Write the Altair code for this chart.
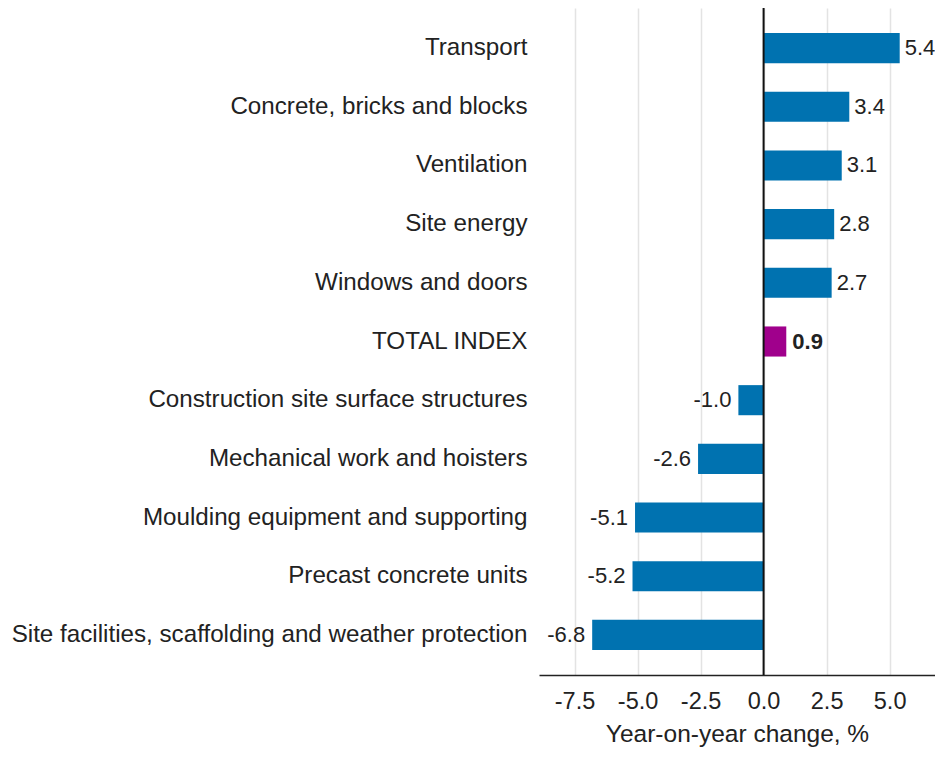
import altair as alt
import pandas as pd

categories = [
    "Transport",
    "Concrete, bricks and blocks",
    "Ventilation",
    "Site energy",
    "Windows and doors",
    "TOTAL INDEX",
    "Construction site surface structures",
    "Mechanical work and hoisters",
    "Moulding equipment and supporting",
    "Precast concrete units",
    "Site facilities, scaffolding and weather protection",
]
values = [5.4, 3.4, 3.1, 2.8, 2.7, 0.9, -1.0, -2.6, -5.1, -5.2, -6.8]
is_total = [c == "TOTAL INDEX" for c in categories]
tick_values = [-7.5, -5.0, -2.5, 0.0, 2.5, 5.0]

df = pd.DataFrame({"cat": categories, "val": values, "total": is_total})
df["label"] = df["val"].map(lambda v: f"{v:.1f}")

FONT = "Liberation Sans"
BLUE = "#0072b0"
MAG = "#a0008c"
TXT = "#222222"

x_scale = alt.Scale(domain=[-8.91, 6.80], nice=False, zero=False)
y_scale = alt.Scale(domain=categories, paddingInner=0.487, paddingOuter=0.427)

base = alt.Chart(df)

bars = base.mark_bar().encode(
    x=alt.X("val:Q", scale=x_scale,
            axis=alt.Axis(values=tick_values,
                          labelExpr="replace(format(datum.value, '.1f'), '\u2212', '-')",
                          title="Year-on-year change, %", grid=True,
                          gridColor="#e3e3e3", gridWidth=1.5,
                          domainColor=TXT, domainWidth=1.5,
                          ticks=False, labelPadding=14, titlePadding=10,
                          labelFontSize=23.5, titleFontSize=24.5, labelFont=FONT,
                          titleFont=FONT, labelColor=TXT, titleColor=TXT,
                          titleFontWeight="normal")),
    y=alt.Y("cat:N", scale=y_scale, sort=categories,
            axis=alt.Axis(title=None, domain=False, ticks=False, labelPadding=12,
                          labelFontSize=24.2, labelFont=FONT, labelColor=TXT,
                          labelLimit=600)),
    color=alt.Color("total:N", scale=alt.Scale(domain=[False, True], range=[BLUE, MAG]),
                    legend=None),
)

pos = df[(df["val"] >= 0) & (~df["total"])]
tot = df[df["total"]]
neg = df[df["val"] < 0]

def text_layer(data, align, dx, weight):
    return alt.Chart(data).mark_text(align=align, dx=dx, font=FONT, fontSize=22,
                                     fontWeight=weight, color=TXT).encode(
        x=alt.X("val:Q", scale=x_scale),
        y=alt.Y("cat:N", scale=y_scale, sort=categories),
        text="label:N",
    )

text_pos = text_layer(pos, "left", 5, "normal")
text_tot = text_layer(tot, "left", 6, "bold")
text_neg = text_layer(neg, "right", -7, "normal")

zero = alt.Chart(pd.DataFrame({"z": [0.0]})).mark_rule(color="#111111", strokeWidth=2).encode(
    x=alt.X("z:Q", scale=x_scale)
)

chart = (bars + zero + text_pos + text_tot + text_neg).properties(
    width=396, height=667,
    autosize=alt.AutoSizeParams(type="none"),
    padding={"left": 531, "top": 0, "right": 0, "bottom": 75},
).configure_view(stroke=None)

chart.save("out.html", embed_options={"renderer": "svg", "actions": False})
